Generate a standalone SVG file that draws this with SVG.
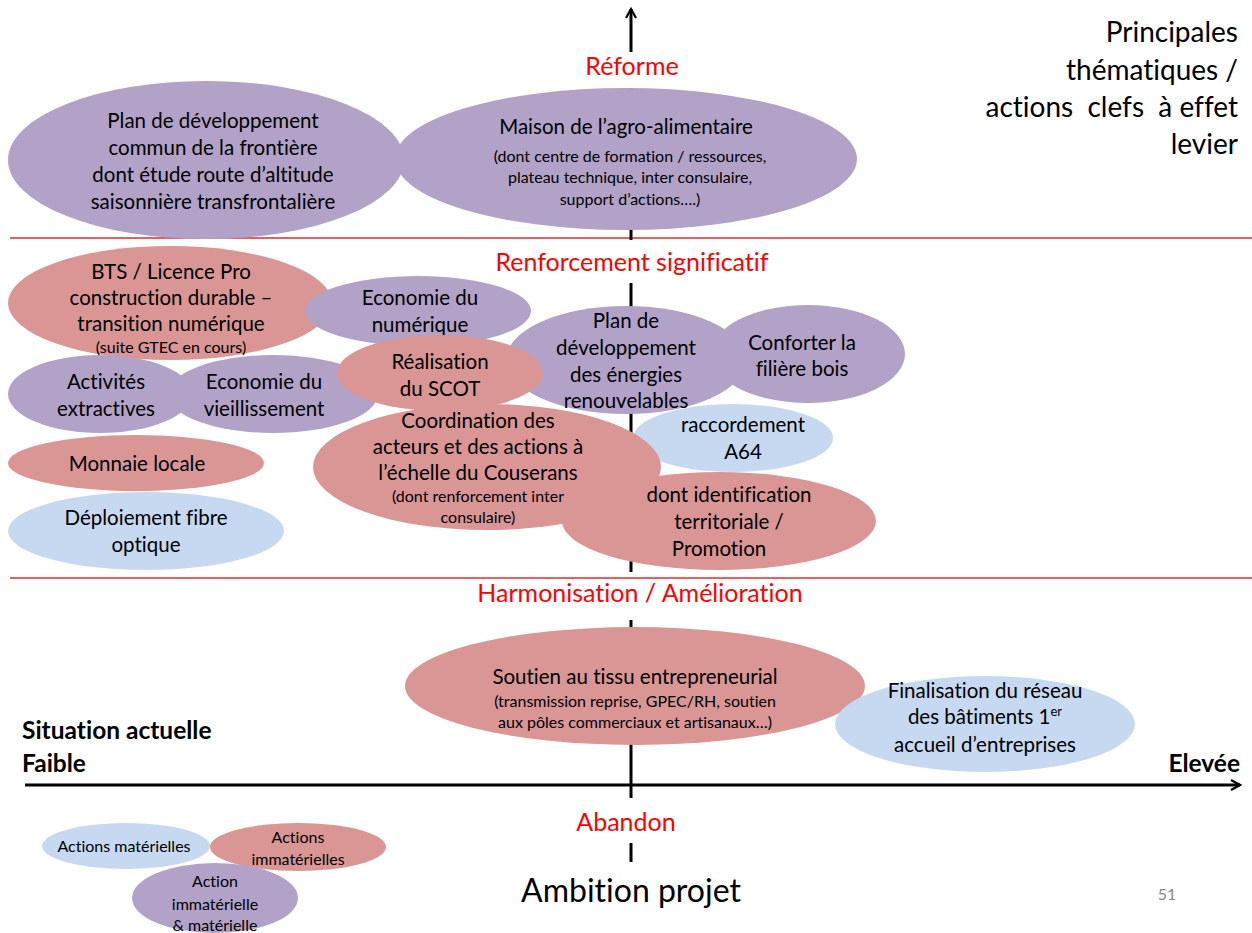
<svg xmlns="http://www.w3.org/2000/svg" width="1252" height="933" viewBox="0 0 1252 933">
<style>
.p{fill:#B2A2C7}
.r{fill:#D99694}
.b{fill:#C6D9F1}
text{font-family:Lato,"Open Sans","Liberation Sans",sans-serif;fill:#000;font-variant-ligatures:none;font-feature-settings:"liga" 0,"dlig" 0}
.t{font-size:20.5px;text-anchor:middle}
.s{font-size:16px;text-anchor:middle}
.l{font-size:16px;text-anchor:middle}
.red{font-size:25px;text-anchor:middle;fill:#FF0000}
.bold{font-size:24.5px;font-weight:bold}
.pr{font-size:28px;text-anchor:end}
.ax{stroke:#000;stroke-width:3;fill:none}
.sep{stroke:#E0282E;stroke-width:1.5}
</style>
<defs>
<marker id="ah" viewBox="0 0 12 12" refX="10" refY="6" markerWidth="12" markerHeight="12" markerUnits="userSpaceOnUse" orient="auto">
<path d="M1,1 L10,6 L1,11" fill="none" stroke="#000" stroke-width="2.2"/>
</marker>
</defs>
<rect width="1252" height="933" fill="#fff"/>
<g id="axes">
<line class="sep" x1="10" y1="238" x2="1252" y2="238"/>
<line class="sep" x1="10" y1="578" x2="1252" y2="578"/>
<line class="ax" x1="631" y1="52" x2="631" y2="9" marker-end="url(#ah)"/>
<line class="ax" x1="631" y1="88" x2="631" y2="240"/>
<line class="ax" x1="631" y1="283" x2="631" y2="572"/>
<line class="ax" x1="631" y1="620" x2="631" y2="798"/>
<line class="ax" x1="631" y1="843" x2="631" y2="862"/>
<line class="ax" x1="25" y1="785" x2="1240" y2="785" marker-end="url(#ah)"/>
</g>
<g id="labels">
<text class="red" x="632" y="75">Réforme</text>
<text class="red" x="632" y="271">Renforcement significatif</text>
<text class="red" x="640" y="602">Harmonisation / Amélioration</text>
<text class="red" x="626" y="831">Abandon</text>
<text x="631" y="902" style="font-size:32px;text-anchor:middle">Ambition projet</text>
<text x="1167" y="900" style="font-size:16px;text-anchor:middle;fill:#888">51</text>
<text class="bold" x="22" y="739">Situation actuelle</text>
<text class="bold" x="22" y="772">Faible</text>
<text class="bold" x="1240" y="772" text-anchor="end">Elevée</text>
<text class="pr" x="1238" y="42">Principales</text>
<text class="pr" x="1238" y="80">thématiques /</text>
<text class="pr" x="1238" y="117" xml:space="preserve">actions  clefs  à effet</text>
<text class="pr" x="1238" y="154">levier</text>
</g>
<g id="n-frontiere">
<ellipse class="p" cx="206" cy="160" rx="198" ry="79"/>
<text class="t" x="213" y="128">Plan de développement</text>
<text class="t" x="213" y="155">commun de la frontière</text>
<text class="t" x="213" y="182">dont étude route d’altitude</text>
<text class="t" x="213" y="209">saisonnière transfrontalière</text>
</g>
<g id="n-agro">
<ellipse class="p" cx="626" cy="159" rx="231" ry="71"/>
<text class="t" x="626" y="134">Maison de l’agro-alimentaire</text>
<text class="s" x="630" y="162">(dont centre de formation / ressources,</text>
<text class="s" x="630" y="183">plateau technique, inter consulaire,</text>
<text class="s" x="630" y="205">support d’actions….)</text>
</g>
<g id="n-bts">
<ellipse class="r" cx="170" cy="303" rx="162" ry="57"/>
<text class="t" x="171" y="279">BTS / Licence Pro</text>
<text class="t" x="171" y="305">construction durable –</text>
<text class="t" x="171" y="331">transition numérique</text>
<text class="s" x="171" y="353">(suite GTEC en cours)</text>
</g>
<g id="n-activites">
<ellipse class="p" cx="100" cy="394" rx="92" ry="39"/>
<text class="t" x="106" y="389">Activités</text>
<text class="t" x="106" y="416">extractives</text>
</g>
<g id="n-vieillissement">
<ellipse class="p" cx="273" cy="394" rx="105" ry="39"/>
<text class="t" x="264" y="389">Economie du</text>
<text class="t" x="264" y="416">vieillissement</text>
</g>
<g id="n-numerique">
<ellipse class="p" cx="418" cy="311" rx="113" ry="35"/>
<text class="t" x="420" y="305">Economie du</text>
<text class="t" x="420" y="332">numérique</text>
</g>
<g id="n-bois">
<ellipse class="p" cx="808" cy="354" rx="97" ry="49"/>
<text class="t" x="802" y="350">Conforter la</text>
<text class="t" x="802" y="376">filière bois</text>
</g>
<g id="n-enr">
<ellipse class="p" cx="626" cy="360" rx="120" ry="54"/>
<text class="t" x="626" y="328">Plan de</text>
<text class="t" x="626" y="355">développement</text>
<text class="t" x="626" y="382">des énergies</text>
<text class="t" x="626" y="408">renouvelables</text>
</g>
<g id="n-scot">
<ellipse class="r" cx="440" cy="373" rx="103" ry="38"/>
<text class="t" x="440" y="369">Réalisation</text>
<text class="t" x="440" y="396">du SCOT</text>
</g>
<g id="n-monnaie">
<ellipse class="r" cx="136" cy="463" rx="128" ry="28"/>
<text class="t" x="137" y="471">Monnaie locale</text>
</g>
<g id="n-fibre">
<ellipse class="b" cx="146" cy="531" rx="138" ry="39"/>
<text class="t" x="146" y="525">Déploiement fibre</text>
<text class="t" x="146" y="552">optique</text>
</g>
<g id="n-a64">
<ellipse class="b" cx="733" cy="438" rx="100" ry="34"/>
<text class="t" x="743" y="432">raccordement</text>
<text class="t" x="743" y="459">A64</text>
</g>
<g id="n-promotion">
<ellipse class="r" cx="719" cy="521" rx="157" ry="49"/>
<text class="t" x="729" y="502">dont identification</text>
<text class="t" x="729" y="529">territoriale /</text>
<text class="t" x="719" y="556">Promotion</text>
</g>
<g id="n-coordination">
<ellipse class="r" cx="487" cy="467" rx="174" ry="63"/>
<text class="t" x="478" y="428">Coordination des</text>
<text class="t" x="478" y="454">acteurs et des actions à</text>
<text class="t" x="478" y="480">l’échelle du Couserans</text>
<text class="s" x="478" y="502">(dont renforcement inter</text>
<text class="s" x="478" y="523">consulaire)</text>
</g>
<g id="n-soutien">
<ellipse class="r" cx="635" cy="686" rx="230" ry="59"/>
<text class="t" x="635" y="684">Soutien au tissu entrepreneurial</text>
<text class="s" x="635" y="707">(transmission reprise, GPEC/RH, soutien</text>
<text class="s" x="635" y="728">aux pôles commerciaux et artisanaux…)</text>
</g>
<g id="n-finalisation">
<ellipse class="b" cx="985" cy="724" rx="150" ry="48"/>
<text class="t" x="985" y="698">Finalisation du réseau</text>
<text class="t" x="985" y="724">des bâtiments 1<tspan style="font-size:13px" dy="-8">er</tspan></text>
<text class="t" x="985" y="752">accueil d’entreprises</text>
</g>
<g id="legend">
<g id="lg-materielles">
<ellipse class="b" cx="126" cy="846" rx="84" ry="23"/>
<text class="l" x="124" y="852">Actions matérielles</text>
</g>
<g id="lg-immaterielles">
<ellipse class="r" cx="298" cy="847" rx="88" ry="24"/>
<text class="l" x="298" y="843">Actions</text>
<text class="l" x="298" y="865">immatérielles</text>
</g>
<g id="lg-mixte">
<ellipse class="p" cx="215" cy="898" rx="83" ry="35"/>
<text class="l" x="215" y="887">Action</text>
<text class="l" x="215" y="910">immatérielle</text>
<text class="l" x="215" y="931">&amp; matérielle</text>
</g>
</g>
</svg>
